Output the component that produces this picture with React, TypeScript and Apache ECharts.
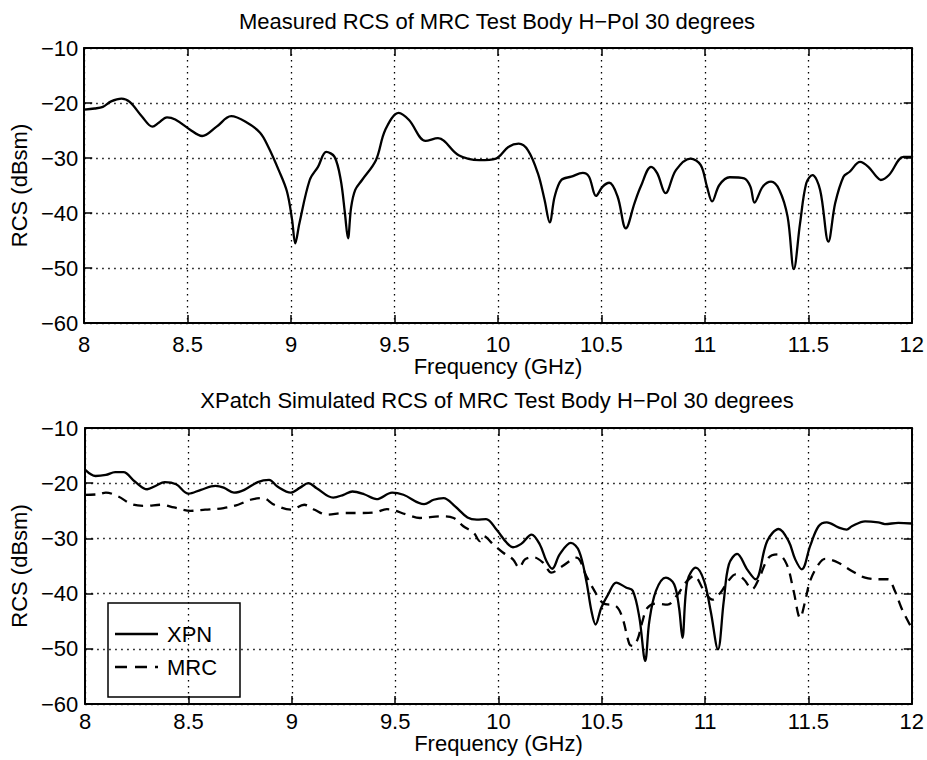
import React, { useEffect, useRef } from "react";
import * as echarts from "echarts";

// Measured RCS (top plot)
const measFreq = [8.0, 8.05, 8.09, 8.13, 8.18, 8.22, 8.28, 8.33, 8.36, 8.4, 8.44, 8.51, 8.57, 8.64, 8.71, 8.78, 8.85, 8.89, 8.94, 8.98, 9.005, 9.02, 9.04, 9.09, 9.13, 9.17, 9.21, 9.24, 9.26, 9.275, 9.29, 9.31, 9.343, 9.41, 9.455, 9.52, 9.57, 9.65, 9.71, 9.81, 9.91, 9.99, 10.05, 10.1, 10.145, 10.193, 10.225, 10.25, 10.274, 10.306, 10.354, 10.41, 10.44, 10.474, 10.506, 10.538, 10.578, 10.618, 10.66, 10.69, 10.74, 10.77, 10.81, 10.86, 10.93, 10.98, 11.01, 11.035, 11.07, 11.12, 11.19, 11.22, 11.24, 11.28, 11.32, 11.36, 11.4, 11.43, 11.46, 11.49, 11.52, 11.557, 11.597, 11.63, 11.67, 11.7, 11.75, 11.79, 11.83, 11.85, 11.89, 11.96, 12.0];
const measRcs = [-21.2, -21.0, -20.7, -19.7, -19.2, -19.8, -22.5, -24.3, -23.6, -22.6, -23.0, -24.8, -26.0, -24.3, -22.4, -23.4, -25.4, -28.0, -32.2, -36.1, -41.3, -45.5, -41.9, -34.0, -31.6, -28.9, -29.8, -34.0, -40.0, -44.6, -39.0, -35.8, -34.0, -30.4, -24.9, -21.8, -23.1, -26.9, -26.4, -29.5, -30.4, -30.1, -28.0, -27.4, -28.6, -32.8, -37.6, -41.7, -37.0, -34.0, -33.4, -32.7, -33.4, -36.9, -35.2, -34.5, -37.0, -42.8, -38.2, -35.2, -31.6, -32.8, -36.4, -32.2, -30.1, -31.3, -35.2, -37.9, -34.9, -33.5, -33.7, -35.2, -38.1, -35.2, -34.3, -35.8, -40.7, -50.2, -41.9, -34.6, -33.1, -35.8, -45.2, -38.2, -33.4, -32.5, -30.7, -31.6, -33.4, -34.0, -33.1, -29.8, -29.8];

// XPatch simulated, XPN (solid)
const xpnFreq = [8.0, 8.05, 8.1, 8.145, 8.185, 8.24, 8.3, 8.34, 8.385, 8.44, 8.5, 8.56, 8.63, 8.67, 8.72, 8.77, 8.835, 8.89, 8.93, 8.995, 9.04, 9.08, 9.12, 9.2, 9.25, 9.293, 9.35, 9.41, 9.485, 9.54, 9.64, 9.686, 9.734, 9.79, 9.85, 9.895, 9.94, 9.99, 10.04, 10.07, 10.11, 10.16, 10.2, 10.232, 10.26, 10.296, 10.35, 10.39, 10.425, 10.45, 10.47, 10.497, 10.53, 10.57, 10.617, 10.65, 10.682, 10.71, 10.73, 10.762, 10.81, 10.85, 10.874, 10.89, 10.914, 10.955, 10.995, 11.027, 11.062, 11.09, 11.115, 11.155, 11.203, 11.244, 11.3, 11.356, 11.404, 11.436, 11.468, 11.508, 11.549, 11.589, 11.645, 11.685, 11.71, 11.774, 11.838, 11.87, 11.935, 12.0];
const xpnRcs = [-17.6, -18.7, -18.5, -18.0, -18.0, -19.7, -21.1, -20.5, -19.8, -20.2, -21.9, -21.2, -20.5, -20.8, -21.7, -21.2, -19.8, -19.4, -20.6, -21.7, -20.8, -20.0, -20.9, -22.6, -22.1, -21.5, -22.0, -22.9, -21.7, -22.1, -23.8, -23.0, -22.7, -24.2, -26.2, -26.6, -26.5, -28.4, -30.8, -31.6, -31.0, -29.3, -31.1, -34.1, -35.5, -32.9, -30.8, -32.3, -37.7, -43.2, -45.6, -42.6, -40.2, -38.0, -38.9, -39.5, -44.4, -52.2, -45.0, -39.5, -37.1, -38.3, -42.6, -48.0, -37.7, -35.3, -37.7, -43.2, -50.1, -41.4, -34.7, -32.8, -35.6, -37.4, -30.5, -28.3, -30.5, -33.8, -35.6, -31.4, -27.8, -27.1, -28.0, -28.4, -27.8, -26.9, -27.1, -27.4, -27.2, -27.3];

// XPatch simulated, MRC (dashed)
const mrcFreq = [8.0, 8.064, 8.1, 8.16, 8.225, 8.29, 8.37, 8.43, 8.51, 8.58, 8.67, 8.74, 8.8, 8.86, 8.915, 8.995, 9.06, 9.11, 9.17, 9.25, 9.333, 9.4, 9.46, 9.557, 9.62, 9.72, 9.783, 9.83, 9.88, 9.91, 9.927, 9.975, 10.023, 10.07, 10.1, 10.128, 10.168, 10.216, 10.256, 10.31, 10.377, 10.425, 10.457, 10.505, 10.57, 10.6, 10.634, 10.65, 10.673, 10.697, 10.72, 10.762, 10.818, 10.866, 10.906, 10.946, 10.995, 11.035, 11.075, 11.107, 11.147, 11.187, 11.227, 11.259, 11.307, 11.352, 11.395, 11.428, 11.46, 11.484, 11.508, 11.549, 11.58, 11.645, 11.71, 11.774, 11.854, 11.886, 11.918, 11.95, 11.982, 12.0];
const mrcRcs = [-22.1, -22.0, -21.7, -22.4, -23.8, -24.1, -23.9, -24.4, -25.0, -24.8, -24.5, -23.9, -23.0, -22.7, -23.9, -24.8, -23.9, -24.8, -25.7, -25.4, -25.4, -25.3, -24.7, -25.7, -26.3, -26.0, -26.3, -27.8, -29.0, -30.5, -29.6, -31.1, -32.6, -33.8, -35.3, -33.8, -33.4, -34.4, -36.2, -35.0, -33.5, -36.8, -39.0, -41.7, -42.3, -44.4, -49.2, -49.5, -48.3, -45.0, -42.6, -41.8, -42.0, -40.2, -38.0, -36.8, -39.5, -41.1, -39.8, -38.0, -36.5, -37.4, -39.2, -37.4, -33.5, -32.9, -34.7, -39.5, -44.4, -41.4, -37.7, -34.7, -33.7, -34.4, -35.9, -37.1, -37.4, -37.4, -39.5, -42.6, -45.0, -46.2];

const xTicks = { min: 8, max: 12, interval: 0.5 };
const yTicks = { min: -60, max: -10, interval: 10 };
const topTitle = "Measured RCS of MRC Test Body H\u2212Pol 30 degrees";
const bottomTitle = "XPatch Simulated RCS of MRC Test Body H\u2212Pol 30 degrees";
const xName = "Frequency (GHz)";
const yName = "RCS (dBsm)";
const legendNames = ["XPN", "MRC"];

const FONT = "Liberation Sans, Arial, Helvetica, sans-serif";
const FS = 22;
const BLACK = "#000";

const minus = (v: number) => String(v).replace("-", "\u2212");

function makeX(gridIndex: number, bottom: boolean, labelMargin: number, nameGap: number) {
  return {
    type: "value",
    gridIndex,
    position: bottom ? "bottom" : "top",
    min: xTicks.min,
    max: xTicks.max,
    interval: xTicks.interval,
    name: bottom ? xName : "",
    nameLocation: "middle",
    nameGap,
    nameTextStyle: { color: BLACK, fontFamily: FONT, fontSize: FS },
    axisLine: { show: true, onZero: false, lineStyle: { color: BLACK, width: 2 } },
    axisTick: { show: true, inside: true, length: 8, lineStyle: { color: BLACK, width: 1.5 } },
    axisLabel: {
      show: bottom,
      margin: labelMargin,
      color: BLACK,
      fontFamily: FONT,
      fontSize: FS,
      formatter: (v: number) => minus(v),
    },
    splitLine: bottom
      ? { show: true, lineStyle: { color: BLACK, width: 1.3, type: [1.5, 4.5] } }
      : { show: false },
  };
}

function makeY(gridIndex: number, left: boolean, labelMargin: number) {
  return {
    type: "value",
    gridIndex,
    position: left ? "left" : "right",
    min: yTicks.min,
    max: yTicks.max,
    interval: yTicks.interval,
    name: left ? yName : "",
    nameLocation: "middle",
    nameRotate: 90,
    nameGap: 46,
    nameTextStyle: { color: BLACK, fontFamily: FONT, fontSize: FS },
    axisLine: { show: true, onZero: false, lineStyle: { color: BLACK, width: 2 } },
    axisTick: { show: true, inside: true, length: 8, lineStyle: { color: BLACK, width: 1.5 } },
    axisLabel: {
      show: left,
      margin: labelMargin,
      color: BLACK,
      fontFamily: FONT,
      fontSize: FS,
      padding: [8, 0, 0, 0],
      formatter: (v: number) => minus(v),
    },
    splitLine: left
      ? { show: true, lineStyle: { color: BLACK, width: 1.3, type: [1.5, 4.5] } }
      : { show: false },
  };
}

const pairs = (fs: number[], vs: number[]) => fs.map((f, i) => [f, vs[i]]);

export default function App() {
  const ref = useRef<HTMLDivElement>(null);
  useEffect(() => {
    if (!ref.current) return;
    const chart = echarts.init(ref.current, undefined, { renderer: "svg" });
    const option = {
      animation: false,
      backgroundColor: "#fff",
      grid: [
        { left: 81, top: 48, width: 831, height: 275 },
        { left: 83, top: 428, width: 830, height: 276 },
      ],
      xAxis: [makeX(0, true, 10, 23), makeX(0, false, 0, 0), makeX(1, true, 6, 21), makeX(1, false, 0, 0)],
      yAxis: [makeY(0, true, 6), makeY(0, false, 0), makeY(1, true, 7), makeY(1, false, 0)],
      series: [
        {
          type: "line",
          name: "Measured",
          xAxisIndex: 0,
          yAxisIndex: 0,
          data: pairs(measFreq, measRcs),
          symbol: "none",
          smooth: 0.35,
          lineStyle: { color: BLACK, width: 2.3 },
        },
        {
          type: "line",
          name: legendNames[0],
          xAxisIndex: 2,
          yAxisIndex: 2,
          data: pairs(xpnFreq, xpnRcs),
          symbol: "none",
          smooth: 0.35,
          lineStyle: { color: BLACK, width: 2.3 },
        },
        {
          type: "line",
          name: legendNames[1],
          xAxisIndex: 2,
          yAxisIndex: 2,
          data: pairs(mrcFreq, mrcRcs),
          symbol: "none",
          smooth: 0.35,
          lineStyle: { color: BLACK, width: 2.3, type: [10, 7] },
        },
      ],
      graphic: [
        {
          type: "text",
          x: 497,
          y: 21,
          style: { text: topTitle, fill: BLACK, font: `${FS}px ${FONT}`, align: "center", verticalAlign: "middle" },
        },
        {
          type: "text",
          x: 497,
          y: 400,
          style: { text: bottomTitle, fill: BLACK, font: `${FS}px ${FONT}`, align: "center", verticalAlign: "middle" },
        },
        {
          type: "group",
          children: [
            {
              type: "rect",
              shape: { x: 108, y: 603, width: 132, height: 94 },
              style: { fill: "#fff", stroke: BLACK, lineWidth: 1.5 },
            },
            {
              type: "line",
              shape: { x1: 115, y1: 634, x2: 158, y2: 634 },
              style: { stroke: BLACK, lineWidth: 2.3 },
            },
            {
              type: "text",
              x: 167,
              y: 634,
              style: { text: legendNames[0], fill: BLACK, font: `${FS}px ${FONT}`, align: "left", verticalAlign: "middle" },
            },
            {
              type: "line",
              shape: { x1: 115, y1: 667, x2: 158, y2: 667 },
              style: { stroke: BLACK, lineWidth: 2.3, lineDash: [12, 8] },
            },
            {
              type: "text",
              x: 167,
              y: 667,
              style: { text: legendNames[1], fill: BLACK, font: `${FS}px ${FONT}`, align: "left", verticalAlign: "middle" },
            },
          ],
        },
      ],
    };
    chart.setOption(option as any);
    return () => chart.dispose();
  }, []);
  return (
    <div
      ref={ref}
      style={{ position: "absolute", left: 0, top: 0, width: 927, height: 760, background: "#fff" }}
    />
  );
}
